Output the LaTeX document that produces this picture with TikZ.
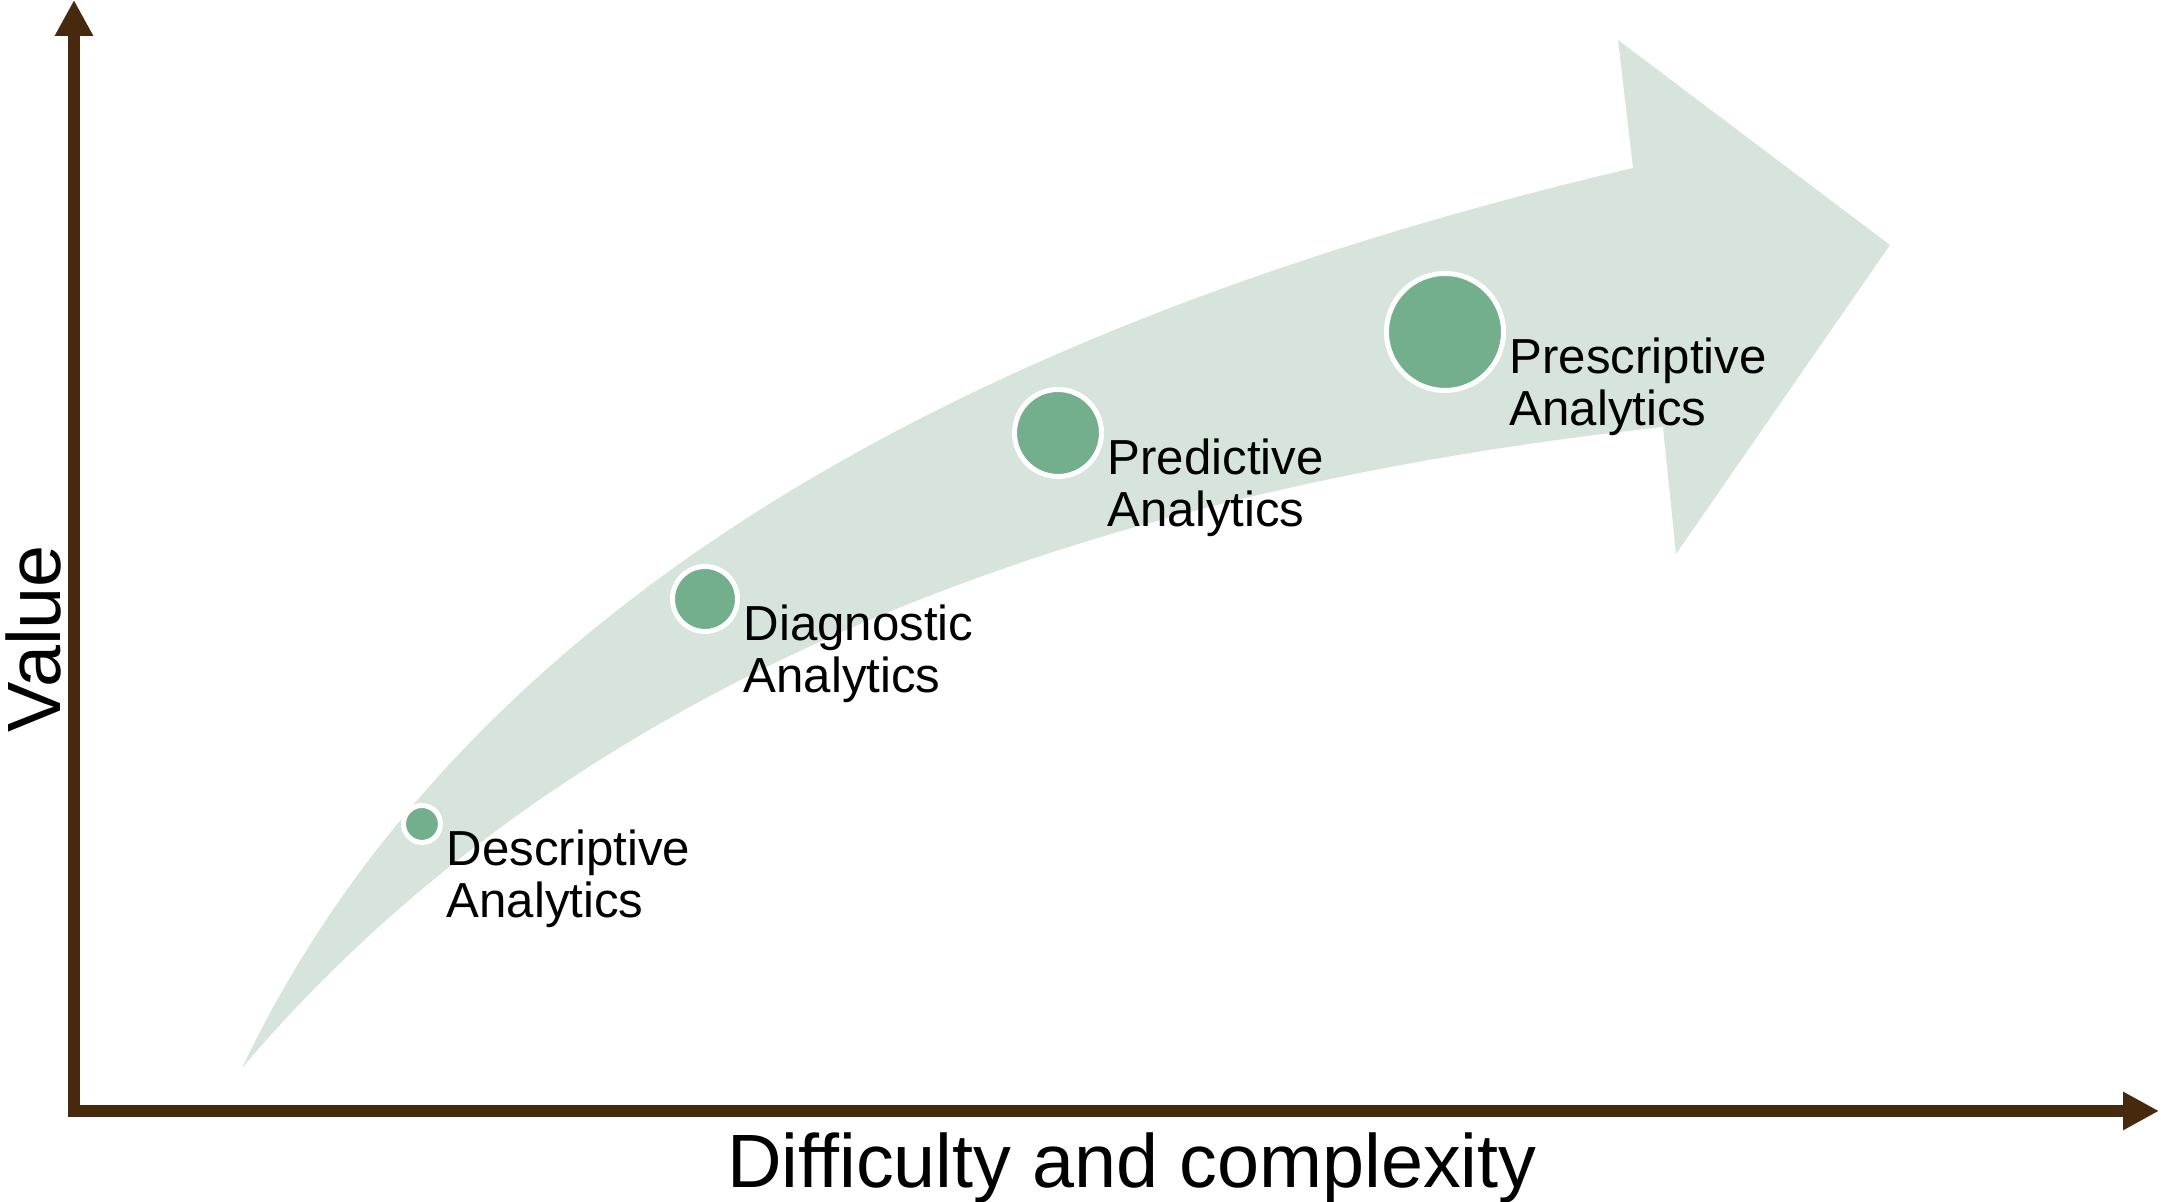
\documentclass[tikz,border=0pt]{standalone}
\usepackage{fontspec}
\setmainfont{Liberation Sans}
\usetikzlibrary{arrows.meta,positioning}

\definecolor{axisbrown}{RGB}{71,41,14}
\definecolor{bandgreen}{RGB}{214,228,220}
\definecolor{dotgreen}{RGB}{115,175,140}

\tikzset{
  axis/.style={axisbrown, line width=0.12cm,
    {Triangle[length=0.36cm,width=0.36cm]}-{Triangle[length=0.36cm,width=0.36cm]}},
  dot/.style={circle, fill=dotgreen, draw=white, line width=0.05cm, inner sep=0pt},
  stagelbl/.style={align=left, inner sep=0pt, font=\fontsize{14}{14.8}\selectfont},
  axislbl/.style={inner sep=0pt, font=\fontsize{21.5}{24}\selectfont}
}

\begin{document}
\begin{tikzpicture}
  \useasboundingbox (0,0) rectangle (21.61,12.02);

  % the curved band with its head
  \fill[bandgreen] (2.42,1.34)
    .. controls (4.47,5.64) and (9.10,8.64) .. (16.33,10.34)
    -- (16.18,11.62) -- (18.90,9.57) -- (16.76,6.48) -- (16.63,7.75)
    .. controls (10.18,7.05) and (5.45,4.91) .. (2.42,1.34) -- cycle;

  % axes
  \coordinate (ytop) at (0.74,12.02);
  \coordinate (origin) at (0.74,0.91);
  \coordinate (xend) at (21.59,0.91);
  \draw[axis] (ytop) -- (origin) -- (xend);
  \node[axislbl, anchor=base] (xlabel) at (11.32,0.14) {Difficulty and complexity};
  \node[axislbl, anchor=base, rotate=90] (ylabel) at (0.60,5.63) {Value};

  % stages, growing along the band
  \node[dot, minimum size=0.37cm] (desc) at (4.22,3.78) {};
  \node[dot, minimum size=0.65cm] (diag) at (7.05,6.03) {};
  \node[dot, minimum size=0.87cm] (pred) at (10.58,7.69) {};
  \node[dot, minimum size=1.17cm] (presc) at (14.45,8.70) {};

  \node[stagelbl, below right=0.05cm and 0.03cm of desc.east] (desc-l) {Descriptive\\Analytics};
  \node[stagelbl, below right=0.05cm and 0.03cm of diag.east] (diag-l) {Diagnostic\\Analytics};
  \node[stagelbl, below right=0.05cm and 0.03cm of pred.east] (pred-l) {Predictive\\Analytics};
  \node[stagelbl, below right=0.05cm and 0.03cm of presc.east] (presc-l) {Prescriptive\\Analytics};
\end{tikzpicture}
\end{document}
